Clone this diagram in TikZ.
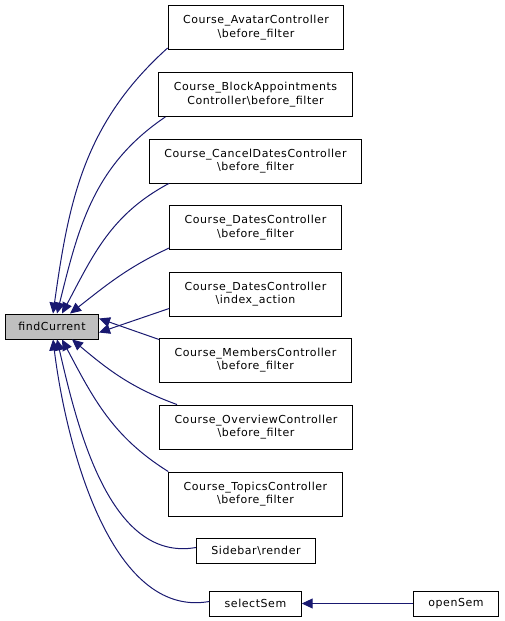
\documentclass[tikz,border=0pt]{standalone}
\usepackage{fontspec}
\setmainfont{DejaVu Sans}[LetterSpace=5]
\usetikzlibrary{arrows.meta}
\definecolor{edgeblue}{RGB}{25,25,112}

\begin{document}
\begin{tikzpicture}[x=1pt, y=-1pt,
    fn/.style={draw, fill=white, line width=0.9pt, align=center,
        font=\fontsize{11}{13.5}\selectfont, inner xsep=15pt, inner ysep=3pt},
    two/.style={minimum height=44pt},
    one/.style={minimum height=25pt},
    call/.style={edgeblue, line width=1pt,
        -{Triangle[length=11pt,width=10pt]}}]
    \useasboundingbox (0,0) rectangle (504,621);
    \node[fn, one, fill=black!25, inner xsep=13pt] (find) at (52,326.5) {findCurrent};
    \node[fn, two] (avatar) at (256,27.5) {Course\_AvatarController\\\textbackslash before\_filter};
    \node[fn, two] (block) at (255.5,94.5) {Course\_BlockAppointments\\Controller\textbackslash before\_filter};
    \node[fn, two] (cancel) at (255.5,161) {Course\_CancelDatesController\\\textbackslash before\_filter};
    \node[fn, two] (datesbf) at (255.5,227.5) {Course\_DatesController\\\textbackslash before\_filter};
    \node[fn, two] (datesidx) at (255.5,294) {Course\_DatesController\\\textbackslash index\_action};
    \node[fn, two] (members) at (255.5,360) {Course\_MembersController\\\textbackslash before\_filter};
    \node[fn, two] (overview) at (256,427) {Course\_OverviewController\\\textbackslash before\_filter};
    \node[fn, two] (topics) at (255.5,494) {Course\_TopicsController\\\textbackslash before\_filter};
    \node[fn, one] (sidebar) at (256,550.5) {Sidebar\textbackslash render};
    \node[fn, one] (selsem) at (255.5,603.5) {selectSem};
    \node[fn, one] (opensem) at (456,603.5) {openSem};
    \draw[call] (avatar.south west) ++(0,-2) to[out=222,in=82] ([xshift=1pt]find.north);
    \draw[call] ([xshift=7pt]block.south west) to[out=214,in=76] ([xshift=5pt]find.north);
    \draw[call] ([xshift=20pt]cancel.south west) to[out=208,in=62] ([xshift=10pt]find.north);
    \draw[call] (datesbf.south west) ++(0,-2) to[out=205,in=38] ([xshift=18pt]find.north);
    \draw[call] (datesidx.south west) ++(0,-8) -- ([yshift=-6pt]find.east);
    \draw[call] (members.north west) ++(0,2) -- ([yshift=8pt]find.east);
    \draw[call] ([xshift=18pt]overview.north west) to[out=160,in=-40] ([xshift=20pt]find.south);
    \draw[call] (topics.north west) to[out=148,in=-62] ([xshift=10pt]find.south);
    \draw[call] (sidebar.west) ++(0,-3) to[out=190,in=-77,looseness=0.9] ([xshift=5pt]find.south);
    \draw[call] (selsem.west) ++(0,-2) to[out=190,in=-83,looseness=0.85] ([xshift=1pt]find.south);
    \draw[call] (opensem) -- (selsem);
\end{tikzpicture}
\end{document}
